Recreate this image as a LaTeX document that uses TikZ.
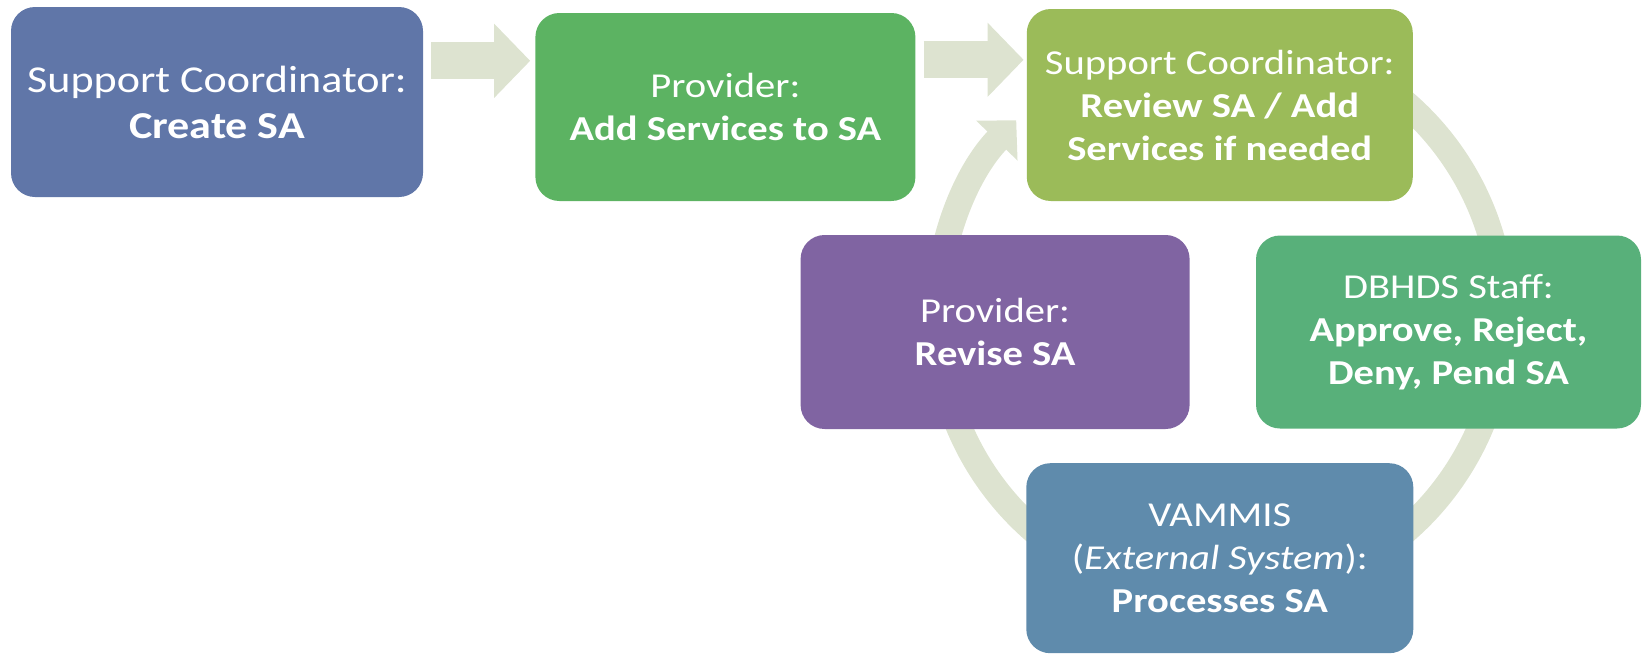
\documentclass[tikz,border=0pt]{standalone}
\usepackage{fontspec}
\setmainfont{Carlito}[FakeStretch=1.16]
\usetikzlibrary{arrows.meta}
\usetikzlibrary{positioning}
\usetikzlibrary{backgrounds}

\definecolor{createcol}{RGB}{96,118,168}
\definecolor{addcol}{RGB}{92,179,98}
\definecolor{reviewcol}{RGB}{155,187,89}
\definecolor{revisecol}{RGB}{128,100,162}
\definecolor{staffcol}{RGB}{88,176,122}
\definecolor{vammiscol}{RGB}{95,139,172}
\definecolor{arrowcol}{RGB}{221,227,208}

\begin{document}
\begin{tikzpicture}[x=1pt,y=1pt,node distance=112pt,
    sa box/.style={rectangle,rounded corners=24pt,fill=#1,text=white,align=center,
        minimum width=386pt,minimum height=192pt,inner sep=0pt,
        font=\fontsize{35}{43}\selectfont},
    flow/.style={draw=arrowcol,line width=37pt,-{Triangle[width=72pt,length=36pt]}},
    ring flow/.style={draw=arrowcol,line width=26pt,-{Triangle[width=56pt,length=28pt]}}]

    \useasboundingbox (0,0) rectangle (1644,-657);

    \node[sa box=createcol,minimum width=412pt,minimum height=190pt,font=\fontsize{38}{46}\selectfont] (create) at (217,-102)
        {Support Coordinator:\\\textbf{Create SA}};
    \node[sa box=addcol,minimum width=380pt,minimum height=188pt] (addsvc) [right=112pt of create,yshift=-5pt]
        {Provider:\\\textbf{Add Services to SA}};
    \node[sa box=reviewcol] (review) [right=111pt of addsvc,yshift=2pt]
        {Support Coordinator:\\\textbf{Review SA / Add}\\\textbf{Services if needed}};

    \coordinate[below=212pt of review.center] (hub);
    \node[sa box=revisecol,minimum width=389pt,minimum height=194pt] (revise) [left=30pt of hub,yshift=-15pt]
        {Provider:\\\textbf{Revise SA}};
    \node[sa box=staffcol,minimum width=385pt,minimum height=193pt] (staff) [right=36pt of hub,yshift=-15pt]
        {DBHDS Staff:\\\textbf{Approve, Reject,}\\\textbf{Deny, Pend SA}};
    \node[sa box=vammiscol,minimum width=387pt,minimum height=190pt] (vammis) [below=146pt of hub]
        {VAMMIS\\(\textit{External System}):\\\textbf{Processes SA}};

    % grey arrows behind the boxes
    \begin{scope}[on background layer]
        \draw[flow] ([shift={(8pt,-54pt)}]create.north east) -- ([shift={(-5pt,-48pt)}]addsvc.north west);
        \draw[flow] ([shift={(8pt,-47pt)}]addsvc.north east) -- ([shift={(-3pt,-51pt)}]review.north west);
        \draw[ring flow] ([shift={(60:283pt)}]hub) arc[start angle=60,end angle=-224,radius=283pt];
    \end{scope}

\end{tikzpicture}
\end{document}
